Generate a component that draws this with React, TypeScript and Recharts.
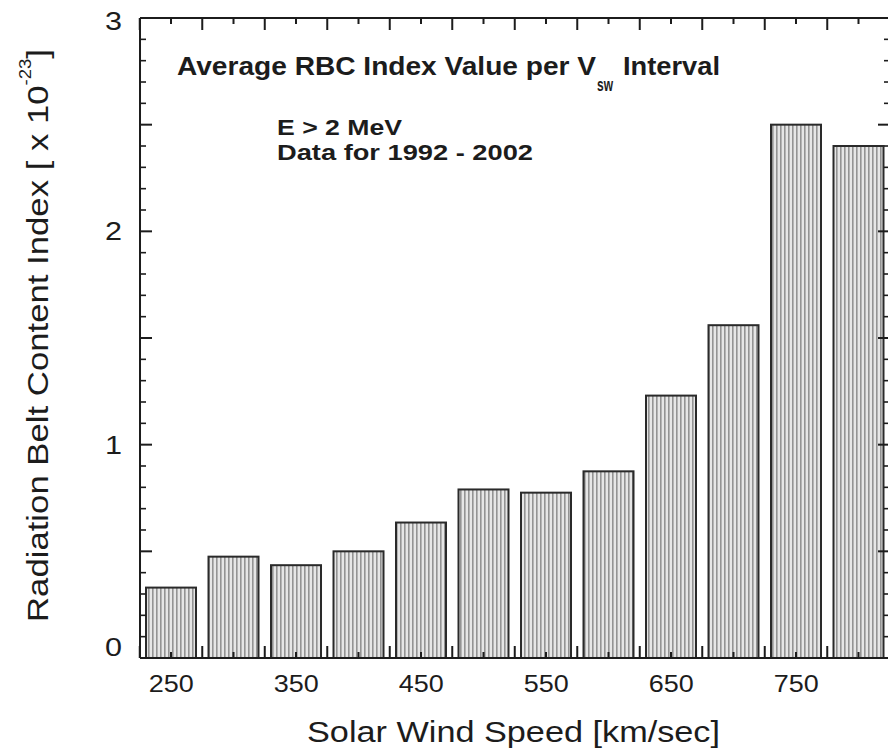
import React from 'react';
import { BarChart, Bar, XAxis, YAxis } from 'recharts';

// Solar wind speed bins [km/sec] and the average RBC index per bin [x 1e-23]
const speeds = [250, 300, 350, 400, 450, 500, 550, 600, 650, 700, 750, 800];
const rbcIndex = [0.33, 0.475, 0.435, 0.5, 0.635, 0.79, 0.775, 0.875, 1.23, 1.56, 2.5, 2.4];

// Axis labels and tick marks
const xTickLabels = [250, 350, 450, 550, 650, 750];
const yTickLabels = [0, 1, 2, 3];
const yDomain = [0, 3];
const yHalfTicks = [0, 0.5, 1, 1.5, 2, 2.5, 3];
const yTenthTicks = Array.from({ length: 31 }, (_, i) => i / 10).filter((v) => !yHalfTicks.includes(v));

const data = speeds.map((speed, i) => ({ speed, rbc: rbcIndex[i] }));

const FONT = '"Liberation Sans", Arial, Helvetica, sans-serif';
const INK = '#1c1c1c';

const W = 888;
const H = 752;
const MARGIN = { top: 18, right: -2, bottom: 94, left: 140 };
// axes take (almost) no room of their own; the margins place the frame
const THIN = 0.01;
// width of one speed bin on screen
const BIN = (W - MARGIN.left - MARGIN.right) / speeds.length;

const MAJOR = 12;
const MINOR = 6;

const NoLabel = () => <g />;

// Bar with the speed-axis tick marks of its bin: a short mark at the bin centre
// and a long one at the bin's left edge, on both the bottom and the top frame.
function TickedBar(p: any) {
  const x = Number(p.x);
  const y = Number(p.y);
  const w = Number(p.width);
  const h = Number(p.height);
  const cx = x + w / 2;
  const base = y + h;
  const bgTop = Number(p.background?.y);
  const top = Number.isFinite(bgTop) ? bgTop : MARGIN.top;
  const edge = cx - BIN / 2;
  const marks =
    `M${cx},${base}v${-MINOR}M${cx},${top}v${MINOR}` +
    `M${edge},${base}v${-MAJOR}M${edge},${top}v${MAJOR}`;
  return (
    <g>
      <rect x={x} y={y} width={w} height={h} fill="url(#vstripes)" stroke="#2a2a2a" strokeWidth={2} />
      <path d={marks} stroke={INK} strokeWidth={2} fill="none" />
    </g>
  );
}

function XTick(props: any) {
  const { x, y, payload } = props;
  if (!xTickLabels.includes(payload.value)) return <g />;
  return (
    <text
      x={x}
      y={y + 34}
      textAnchor="middle"
      fontSize={24}
      fontFamily={FONT}
      fill={INK}
      textLength={45}
      lengthAdjust="spacingAndGlyphs"
    >
      {payload.value}
    </text>
  );
}

// the end labels sit slightly inside the frame
const yLabelNudge: Record<number, number> = { 0: -11, 3: 3 };

function YTick(props: any) {
  const { x, y, payload } = props;
  const v = payload.value as number;
  return (
    <text
      x={x - 18}
      y={y + 9 + (yLabelNudge[v] ?? 0)}
      textAnchor="end"
      fontSize={25}
      fontFamily={FONT}
      fill={INK}
      textLength={17}
      lengthAdjust="spacingAndGlyphs"
    >
      {v}
    </text>
  );
}

const majorLine = { stroke: INK, strokeWidth: 2 };
const minorLine = { stroke: INK, strokeWidth: 1.6 };
const frameLine = { stroke: INK, strokeWidth: 2 };

// shared settings for the tick-mark-only value axes
const markAxis = {
  type: 'number' as const,
  allowDataOverflow: true,
  mirror: true,
  axisLine: false,
  tick: NoLabel,
  interval: 0 as const,
};

export default function App() {
  return (
    <div style={{ position: 'absolute', left: 0, top: 0, width: W, height: H, background: '#fff' }}>
      <BarChart width={W} height={H} data={data} margin={MARGIN}>
        <defs>
          <pattern id="vstripes" width="4" height="8" patternUnits="userSpaceOnUse">
            <rect width="4" height="8" fill="#e6e6e6" />
            <rect width="1.6" height="8" fill="#939393" />
          </pattern>
        </defs>

        <YAxis
          yAxisId="main"
          type="number"
          domain={yDomain}
          ticks={yTickLabels}
          width={THIN}
          tickSize={0}
          tickMargin={0}
          tickLine={false}
          axisLine={frameLine}
          tick={YTick}
        />
        <XAxis
          xAxisId="main"
          dataKey="speed"
          type="category"
          height={THIN}
          interval={0}
          tickSize={0}
          tickMargin={0}
          tickLine={false}
          axisLine={frameLine}
          tick={XTick}
        />
        <XAxis
          xAxisId="top"
          orientation="top"
          dataKey="speed"
          type="category"
          height={THIN}
          tickLine={false}
          axisLine={frameLine}
          tick={NoLabel}
        />

        <Bar
          dataKey="rbc"
          xAxisId="main"
          yAxisId="main"
          barSize={50}
          fill="url(#vstripes)"
          stroke="#2a2a2a"
          strokeWidth={2}
          shape={TickedBar}
          isAnimationActive={false}
        />

        <YAxis {...markAxis} yAxisId="lMaj" dataKey="rbc" domain={yDomain} ticks={yHalfTicks} width={THIN} tickSize={MAJOR} tickLine={majorLine} />
        <YAxis {...markAxis} yAxisId="lMin" dataKey="rbc" domain={yDomain} ticks={yTenthTicks} width={THIN} tickSize={MINOR} tickLine={minorLine} />
        <YAxis {...markAxis} yAxisId="rMaj" dataKey="rbc" orientation="right" domain={yDomain} ticks={yHalfTicks} width={THIN} tickSize={MAJOR} tickLine={majorLine} axisLine={frameLine} />
        <YAxis {...markAxis} yAxisId="rMin" dataKey="rbc" orientation="right" domain={yDomain} ticks={yTenthTicks} width={THIN} tickSize={MINOR} tickLine={minorLine} />

        {/* in-plot annotation */}
        <g fontFamily={FONT} fill={INK} fontWeight="bold">
          <text x={177} y={75} fontSize={25} textLength={419} lengthAdjust="spacingAndGlyphs">
            Average RBC Index Value per V
          </text>
          <text x={597} y={91} fontSize={18} textLength={16} lengthAdjust="spacingAndGlyphs">
            sw
          </text>
          <text x={623} y={75} fontSize={25} textLength={97} lengthAdjust="spacingAndGlyphs">
            Interval
          </text>
          <text x={277} y={135} fontSize={22} textLength={125} lengthAdjust="spacingAndGlyphs">
            E &gt; 2 MeV
          </text>
          <text x={277} y={160} fontSize={22} textLength={256} lengthAdjust="spacingAndGlyphs">
            Data for 1992 - 2002
          </text>
        </g>

        {/* axis titles */}
        <text
          x={307}
          y={742}
          fontSize={29}
          fontFamily={FONT}
          fill={INK}
          textLength={413}
          lengthAdjust="spacingAndGlyphs"
        >
          Solar Wind Speed [km/sec]
        </text>
        <text
          transform="translate(48,622) rotate(-90)"
          fontSize={30}
          fontFamily={FONT}
          fill={INK}
          textLength={573}
          lengthAdjust="spacingAndGlyphs"
        >
          Radiation Belt Content Index [ x 10
          <tspan fontSize={16} dy={-17}>-23</tspan>
          <tspan fontSize={30} dy={17}>]</tspan>
        </text>
      </BarChart>
    </div>
  );
}
